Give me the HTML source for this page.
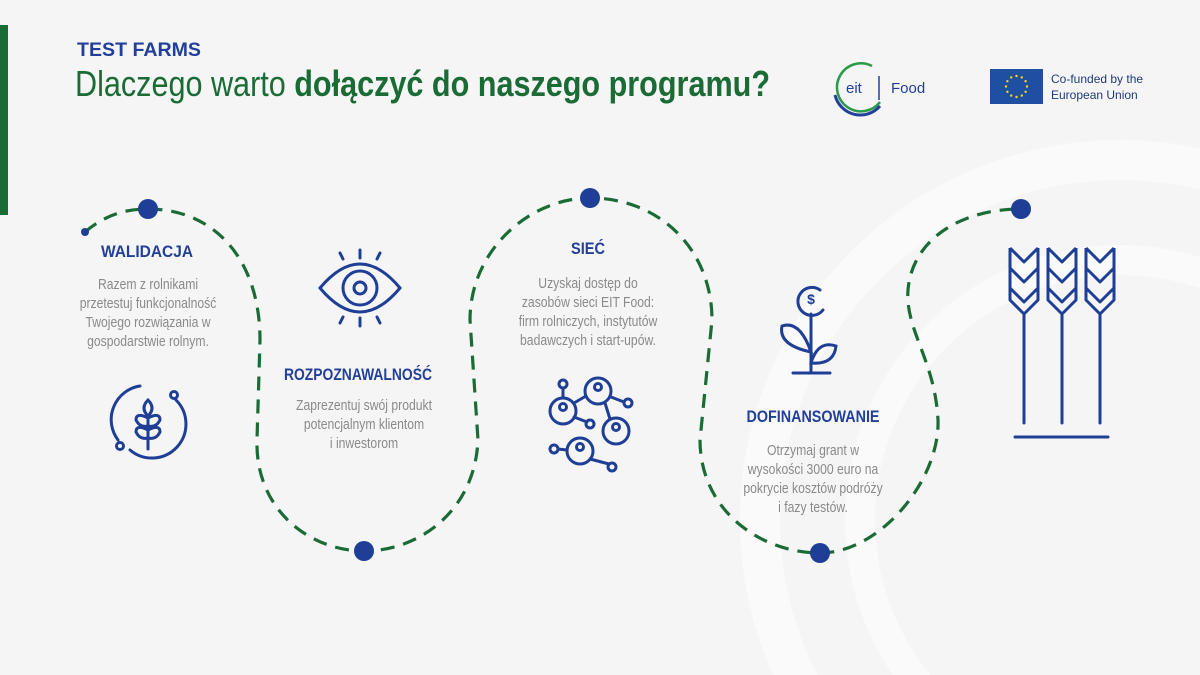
<!DOCTYPE html>
<html><head><meta charset="utf-8"><style>
html,body{margin:0;padding:0;background:#f5f5f5;width:1200px;height:675px;overflow:hidden;}
svg{display:block;font-family:"Liberation Sans",sans-serif;}
</style></head><body>
<svg width="1200" height="675" viewBox="0 0 1200 675" xmlns="http://www.w3.org/2000/svg">
<rect width="1200" height="675" fill="#f5f5f5"/>
<circle cx="1120" cy="520" r="360" fill="none" stroke="#fafafa" stroke-width="40"/>
<circle cx="1120" cy="520" r="260" fill="none" stroke="#fafafa" stroke-width="30"/>
<rect x="0" y="25" width="8" height="190" fill="#1a6b35"/>
<text x="77" y="56" font-size="19" font-weight="bold" fill="#22409a" textLength="124" lengthAdjust="spacingAndGlyphs">TEST FARMS</text>
<text x="75" y="96" font-size="36" fill="#1a6b35" textLength="695" lengthAdjust="spacingAndGlyphs">Dlaczego warto <tspan font-weight="bold">dołączyć do naszego programu?</tspan></text>
<!-- eit logo -->
<path d="M872,66 A24,24 0 1 0 880,102" fill="none" stroke="#2b9a4a" stroke-width="2.5"/>
<path d="M835,95 A26,26 0 0 0 880,106" fill="none" stroke="#22409a" stroke-width="3"/>
<line x1="879" y1="76" x2="879" y2="100" stroke="#22409a" stroke-width="1.5"/>
<text x="846" y="93" font-size="15" fill="#22409a">eit</text>
<text x="891" y="93" font-size="15" fill="#22409a">Food</text>
<!-- EU flag -->
<rect x="990" y="69" width="53" height="35" fill="#1f4fa0"/>
<g fill="#ffd617">
<circle cx="1016.5" cy="76" r="1.2"/><circle cx="1016.5" cy="97" r="1.2"/><circle cx="1006" cy="86.5" r="1.2"/><circle cx="1027" cy="86.5" r="1.2"/>
<circle cx="1007.4" cy="81.2" r="1.2"/><circle cx="1025.6" cy="81.2" r="1.2"/><circle cx="1007.4" cy="91.8" r="1.2"/><circle cx="1025.6" cy="91.8" r="1.2"/>
<circle cx="1011.2" cy="77.4" r="1.2"/><circle cx="1021.8" cy="77.4" r="1.2"/><circle cx="1011.2" cy="95.6" r="1.2"/><circle cx="1021.8" cy="95.6" r="1.2"/>
</g>
<text x="1051" y="83" font-size="12" fill="#1f3a7a">Co-funded by the</text>
<text x="1051" y="99" font-size="12" fill="#1f3a7a">European Union</text>
<!-- path -->
<path d="M85,232 C105,215 125,209 148,209 C215,209 260,260 260,340 L257,440 C255,510 310,551 364,551 C420,551 475,510 478,440 L470,320 C470,250 530,198 590,198 C660,198 712,250 712,320 L700,440 C700,510 760,553 820,553 C880,553 940,480 938,420 C935,360 905,330 908,290 C912,240 960,209 1021,209" fill="none" stroke="#1a6b35" stroke-width="3.2" stroke-dasharray="14,9"/>
<g fill="#1f3f96">
<circle cx="85" cy="232" r="4"/><circle cx="148" cy="209" r="10"/><circle cx="364" cy="551" r="10"/><circle cx="590" cy="198" r="10"/><circle cx="820" cy="553" r="10"/><circle cx="1021" cy="209" r="10"/>
</g>
<!-- texts -->
<g text-anchor="middle" fill="#22409a" font-weight="bold" font-size="17">
<text x="147" y="257" textLength="92" lengthAdjust="spacingAndGlyphs">WALIDACJA</text>
<text x="358" y="380" textLength="148" lengthAdjust="spacingAndGlyphs">ROZPOZNAWALNOŚĆ</text>
<text x="588" y="254" textLength="34" lengthAdjust="spacingAndGlyphs">SIEĆ</text>
<text x="813" y="422" textLength="133" lengthAdjust="spacingAndGlyphs">DOFINANSOWANIE</text>
</g>
<g text-anchor="middle" fill="#8a8a8a" font-size="14.5">
<g transform="translate(148,0) scale(0.84,1)">
<text x="0" y="289">Razem z rolnikami</text>
<text x="0" y="308">przetestuj funkcjonalność</text>
<text x="0" y="327">Twojego rozwiązania w</text>
<text x="0" y="346">gospodarstwie rolnym.</text>
</g>
<g transform="translate(364,0) scale(0.84,1)">
<text x="0" y="410">Zaprezentuj swój produkt</text>
<text x="0" y="429">potencjalnym klientom</text>
<text x="0" y="448">i inwestorom</text>
</g>
<g transform="translate(588,0) scale(0.84,1)">
<text x="0" y="288">Uzyskaj dostęp do</text>
<text x="0" y="307">zasobów sieci EIT Food:</text>
<text x="0" y="326">firm rolniczych, instytutów</text>
<text x="0" y="345">badawczych i start-upów.</text>
</g>
<g transform="translate(813,0) scale(0.84,1)">
<text x="0" y="455">Otrzymaj grant w</text>
<text x="0" y="474">wysokości 3000 euro na</text>
<text x="0" y="493">pokrycie kosztów podróży</text>
<text x="0" y="512">i fazy testów.</text>
</g>
</g>
<!-- icons -->
<g fill="none" stroke="#1f3f96" stroke-width="3" stroke-linecap="round">
<!-- eye -->
<path d="M320,288 Q360,240 400,288 Q360,336 320,288 Z"/>
<circle cx="360" cy="288" r="17"/><circle cx="360" cy="288" r="6"/>
<line x1="360" y1="250" x2="360" y2="258"/><line x1="340" y1="253" x2="343" y2="259"/><line x1="380" y1="253" x2="377" y2="259"/>
<line x1="360" y1="318" x2="360" y2="326"/><line x1="340" y1="323" x2="343" y2="317"/><line x1="380" y1="323" x2="377" y2="317"/>
<!-- wheat circle -->
<path d="M140,386 A34,34 0 0 0 118,440"/><path d="M176,400 A34,34 0 0 1 130,450"/>
<circle cx="174" cy="395" r="3.5"/><circle cx="120" cy="446" r="3.5"/>
<path d="M148,400 Q140,408 148,416 Q156,408 148,400Z"/>
<path d="M148,418 Q136,412 136,420 Q140,428 148,426 M148,418 Q160,412 160,420 Q156,428 148,426"/>
<path d="M148,430 Q136,424 136,432 Q140,440 148,438 M148,430 Q160,424 160,432 Q156,440 148,438"/>
<line x1="148" y1="416" x2="148" y2="449"/>
<!-- network -->
<circle cx="563" cy="411" r="13"/><circle cx="598" cy="391" r="13"/><circle cx="616" cy="431" r="13"/><circle cx="580" cy="451" r="13"/>
<circle cx="563" cy="407" r="3.5"/><circle cx="598" cy="387" r="3.5"/><circle cx="616" cy="427" r="3.5"/><circle cx="580" cy="447" r="3.5"/>
<circle cx="563" cy="384" r="4"/><circle cx="628" cy="403" r="4"/><circle cx="590" cy="424" r="4"/><circle cx="554" cy="449" r="4"/><circle cx="612" cy="467" r="4"/>
<line x1="563" y1="388" x2="563" y2="398"/><line x1="611" y1="397" x2="624" y2="402"/><line x1="574" y1="417" x2="587" y2="422"/><line x1="558" y1="449" x2="567" y2="450"/><line x1="590" y1="459" x2="609" y2="464"/><line x1="574" y1="403" x2="586" y2="396"/><line x1="605" y1="403" x2="610" y2="419"/>
<!-- money plant -->
<path d="M820,290 A14,14 0 1 0 823,310"/>
<text x="811" y="304" font-size="14" font-weight="bold" fill="#1f3f96" stroke="none" text-anchor="middle">$</text>
<line x1="811" y1="314" x2="811" y2="372"/><line x1="793" y1="373" x2="830" y2="373"/>
<path d="M811,352 Q800,320 782,326 Q778,345 811,352Z"/>
<path d="M811,363 Q818,340 836,346 Q834,365 811,363Z"/>
<!-- wheat stalks -->
<line x1="1024" y1="315" x2="1024" y2="423"/><line x1="1062" y1="315" x2="1062" y2="423"/><line x1="1100" y1="315" x2="1100" y2="423"/>
<line x1="1015" y1="437" x2="1108" y2="437"/>
</g>
<g fill="none" stroke="#1f3f96" stroke-width="3" stroke-linejoin="round">
<path d="M1010,248 L1024,262 L1038,248 M1010,268 L1024,282 L1038,268 M1010,288 L1024,302 L1038,288 M1010,248 L1010,300 L1024,314 L1038,300 L1038,248"/>
<path transform="translate(38,0)" d="M1010,248 L1024,262 L1038,248 M1010,268 L1024,282 L1038,268 M1010,288 L1024,302 L1038,288 M1010,248 L1010,300 L1024,314 L1038,300 L1038,248"/>
<path transform="translate(76,0)" d="M1010,248 L1024,262 L1038,248 M1010,268 L1024,282 L1038,268 M1010,288 L1024,302 L1038,288 M1010,248 L1010,300 L1024,314 L1038,300 L1038,248"/>
</g>
</svg>
</body></html>
